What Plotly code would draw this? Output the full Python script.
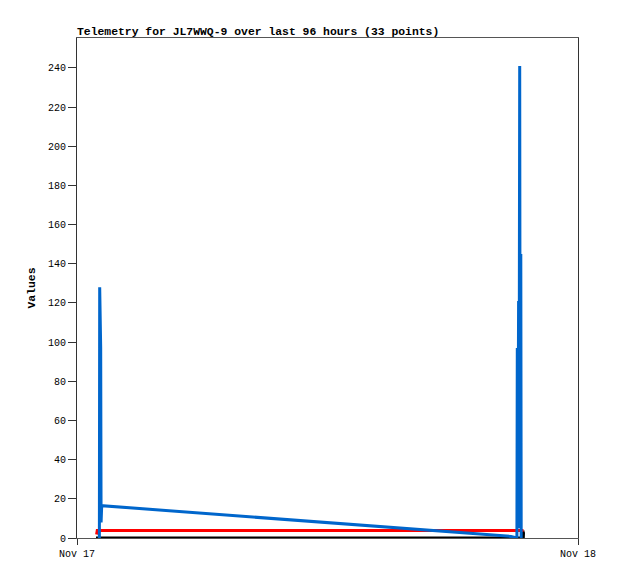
import plotly.graph_objects as go
import pandas as pd

# Hora de cada punto (en horas desde Nov 17 00:00) y valores por canal
blue_hours = [1.072, 1.087, 1.135, 1.154, 1.183, 20.79,
              21.073, 21.092, 21.116, 21.154, 21.173, 21.207, 21.231, 21.260, 21.279]
blue_vals = [0, 128, 97, 8, 16.5, 0.8,
             0, 97, 5, 121, 5, 241, 5, 145, 0]

red_hours = [0.94, 0.97, 21.39]
red_vals = [1.8, 3.8, 3.8]

black_hours = [0.91, 21.38, 21.39, 21.44]
black_vals = [0, 0, 3, 3]

base = pd.Timestamp("2023-11-17 00:00")

def to_time(hours):
    return [base + pd.Timedelta(hours=h) for h in hours]

fig = go.Figure()

# Canal negro
fig.add_trace(go.Scatter(x=to_time(black_hours), y=black_vals, mode="lines",
                         line=dict(color="#000000", width=3), showlegend=False))
# Canal rojo
fig.add_trace(go.Scatter(x=to_time(red_hours), y=red_vals, mode="lines",
                         line=dict(color="#FF0000", width=3), showlegend=False))
# Canal azul
fig.add_trace(go.Scatter(x=to_time(blue_hours), y=blue_vals, mode="lines",
                         line=dict(color="#0066CC", width=3), showlegend=False))

font_mono = "Liberation Mono, Courier New, monospace"

# La página añade 8px de margen, así que la figura es algo más pequeña
fig.update_layout(
    width=602,
    height=563,
    margin=dict(l=69, r=32, t=30, b=33),
    plot_bgcolor="white",
    paper_bgcolor="white",
    font=dict(family=font_mono, size=10, color="black"),
    title=dict(
        text="<b>Telemetry for JL7WWQ-9 over last 96 hours (33 points)</b>",
        font=dict(family=font_mono, size=11.4, color="black"),
        xref="paper", x=0, xanchor="left",
        yref="container", y=1 - 23 / 563, yanchor="middle",
    ),
)

fig.update_xaxes(
    range=[base, base + pd.Timedelta(hours=24)],
    tickvals=[base, base + pd.Timedelta(hours=24)],
    ticktext=["Nov 17", "Nov 18"],
    showgrid=False, zeroline=False, automargin=False,
    showline=True, linecolor="#555555", linewidth=1, mirror=True,
    ticks="outside", ticklen=6, tickcolor="#333333",
)
fig.update_yaxes(
    range=[0, 255.3],
    tickvals=list(range(0, 241, 20)),
    showgrid=False, zeroline=False, automargin=False,
    showline=True, linecolor="#333333", linewidth=1, mirror=True,
    ticks="outside", ticklen=8, tickcolor="#333333",
    title=dict(text="<b>Values</b>", font=dict(family=font_mono, size=11.4), standoff=9),
)

fig.write_html("out.html")
